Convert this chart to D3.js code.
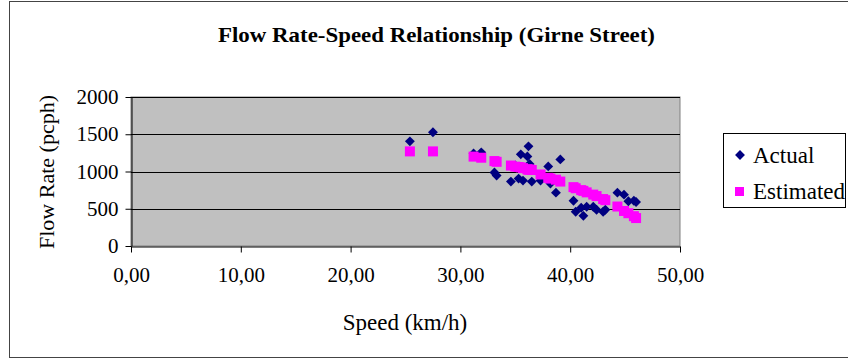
<!DOCTYPE html>
<html><head><meta charset="utf-8">
<script src="https://cdn.jsdelivr.net/npm/d3@7"></script>
<style>body{margin:0;background:#fff}svg{display:block}</style>
</head><body>
<svg id="c" width="848" height="360"></svg>
<script>
const speeds = [25.4,27.5,31.2,31.9,33.1,33.3,34.6,35.0,35.3,35.5,35.7,36.1,36.2,36.3,36.5,37.3,38.0,38.2,38.7,39.1,40.3,40.5,41.0,41.2,41.5,42.1,42.4,43.0,43.2,44.3,44.9,45.3,45.8,46.0];
const actual = [1405,1527,1243,1257,986,946,865,1080,905,1230,878,1203,1338,1100,865,878,1068,838,716,1162,608,460,514,405,527,527,486,459,486,716,689,600,608,590];
const estimated = [1270,1270,1200,1185,1140,1130,1080,1065,1060,1055,1045,1030,1025,1025,1020,960,915,905,890,865,790,775,750,740,720,690,670,630,615,530,470,440,400,375];
const xTicks = [0,10,20,30,40,50];
const yTicks = [0,500,1000,1500,2000];
const seriesNames = ["Actual","Estimated"];

const FONT = "Liberation Serif";
const svg = d3.select("#c");
svg.append("rect").attr("x",9.5).attr("y",1.5).attr("width",850).attr("height",356)
  .attr("fill","#fff").attr("stroke","#444").attr("stroke-width",1);

const L=131,R=680,T=97,B=246;
const x = d3.scaleLinear().domain([0,50]).range([L,R]);
const y = d3.scaleLinear().domain([0,2000]).range([B,T]);

svg.append("rect").attr("x",L).attr("y",T).attr("width",R-L).attr("height",B-T)
  .attr("fill","#c0c0c0").attr("stroke","#808080").attr("stroke-width",1);

svg.append("g").selectAll("line").data(yTicks.filter(d=>d>0)).join("line")
  .attr("x1",L).attr("x2",R).attr("y1",d=>Math.round(y(d))+0.5).attr("y2",d=>Math.round(y(d))+0.5)
  .attr("stroke","#000").attr("stroke-width",1);

const fmt = d => d.toFixed(2).replace(".",",");
const xa = svg.append("g").attr("transform",`translate(0,${B+0.5})`)
  .call(d3.axisBottom(x).tickValues(xTicks).tickFormat(fmt).tickSize(6).tickSizeOuter(0).tickPadding(15));
const ya = svg.append("g").attr("transform",`translate(${L+0.5},0)`)
  .call(d3.axisLeft(y).tickValues(yTicks).tickFormat(d3.format("d")).tickSize(6).tickSizeOuter(0).tickPadding(7));
[xa,ya].forEach(a=>{
  a.attr("font-family",FONT).attr("font-size",21);
  a.selectAll("text").style("font-family",FONT).attr("fill","#000");
  a.selectAll("line,path").attr("stroke","#000");
});

const pts = speeds.map((s,i)=>({s,a:actual[i],e:estimated[i]}));
const diamond = d3.symbol().type(d3.symbolDiamond2).size(62);
svg.append("g").selectAll("path").data(pts).join("path")
  .attr("d",diamond).attr("transform",d=>`translate(${x(d.s)},${y(d.a)})`).attr("fill","#000080");
svg.append("g").selectAll("rect").data(pts).join("rect")
  .attr("x",d=>x(d.s)-5).attr("y",d=>y(d.e)-5).attr("width",10).attr("height",10).attr("fill","#ff00ff");

svg.append("text").attr("x",436.5).attr("y",42).attr("text-anchor","middle")
  .style("font-family",FONT).attr("font-weight","bold").attr("font-size",21)
  .attr("textLength",437).attr("lengthAdjust","spacingAndGlyphs")
  .text("Flow Rate-Speed Relationship (Girne Street)");
svg.append("text").attr("x",405).attr("y",330).attr("text-anchor","middle")
  .style("font-family",FONT).attr("font-size",23).text("Speed (km/h)");
svg.append("text").attr("transform","translate(54,172) rotate(-90)").attr("text-anchor","middle")
  .style("font-family",FONT).attr("font-size",22).text("Flow Rate (pcph)");

const lg = svg.append("g");
lg.append("rect").attr("x",723.5).attr("y",133.5).attr("width",122).attr("height",74)
  .attr("fill","#fff").attr("stroke","#000");
lg.append("path").attr("d",diamond).attr("transform","translate(740,155)").attr("fill","#000080");
lg.append("rect").attr("x",735).attr("y",187).attr("width",9).attr("height",9).attr("fill","#ff00ff");
seriesNames.forEach((n,i)=>{
  lg.append("text").attr("x",753).attr("y",163+i*36).style("font-family",FONT).attr("font-size",23).text(n);
});
</script>
</body></html>
